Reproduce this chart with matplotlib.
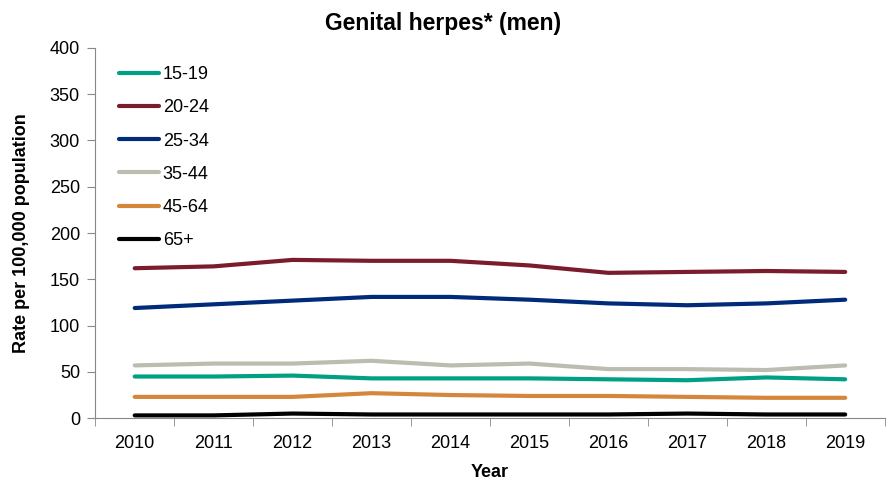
import numpy as np
import matplotlib.pyplot as plt

plt.rcParams['font.family'] = ['Liberation Sans', 'DejaVu Sans']

years = ['2010', '2011', '2012', '2013', '2014', '2015', '2016', '2017', '2018', '2019']
age_groups = ['15-19', '20-24', '25-34', '35-44', '45-64', '65+']
rate_15_19 = [45, 45, 46, 43, 43, 43, 42, 41, 44, 42]
rate_20_24 = [162, 164, 171, 170, 170, 165, 157, 158, 159, 158]
rate_25_34 = [119, 123, 127, 131, 131, 128, 124, 122, 124, 128]
rate_35_44 = [57, 59, 59, 62, 57, 59, 53, 53, 52, 57]
rate_45_64 = [23, 23, 23, 27, 25, 24, 24, 23, 22, 22]
rate_65 = [3, 3, 5, 4, 4, 4, 4, 5, 4, 4]

series = [rate_15_19, rate_20_24, rate_25_34, rate_35_44, rate_45_64, rate_65]
colors = ['#00a085', '#7b1c2c', '#002a7a', '#bcbcb0', '#d4873a', '#000000']

fig = plt.figure(figsize=(8.9, 4.84), dpi=100)
ax = fig.add_axes([0.107, 0.136, 0.887, 0.765])

x = np.arange(len(years))
for vals, lab, c in zip(series, age_groups, colors):
    ax.plot(x, vals, color=c, linewidth=3, label=lab, solid_capstyle='round')

ax.set_xlim(-0.5, len(years) - 0.5)
ax.set_ylim(0, 400)
ax.set_yticks(range(0, 401, 50))
ax.set_xticks(x)
ax.set_xticklabels(years)
ax.set_xticks(np.arange(-0.5, len(years), 1), minor=True)
ax.tick_params(axis='x', which='major', length=0, labelsize=13, pad=12)
ax.tick_params(axis='x', which='minor', length=6, color='#888888')
ax.tick_params(axis='y', length=6, color='#888888', labelsize=13, pad=5)

for s in ['top', 'right']:
    ax.spines[s].set_visible(False)
for s in ['left', 'bottom']:
    ax.spines[s].set_color('#888888')

fig.suptitle('Genital herpes* (men)', x=0.498, y=0.975, fontsize=16.5, fontweight='bold')
ax.set_ylabel('Rate per 100,000 population', fontsize=13, fontweight='bold', labelpad=14)
ax.set_xlabel('Year', fontsize=13, fontweight='bold', labelpad=9)

ax.legend(loc='upper left', bbox_to_anchor=(0.01, 0.995), frameon=False, fontsize=13,
          handlelength=2.2, handletextpad=0.2, labelspacing=0.9)

fig.savefig('out.png', dpi=100)
